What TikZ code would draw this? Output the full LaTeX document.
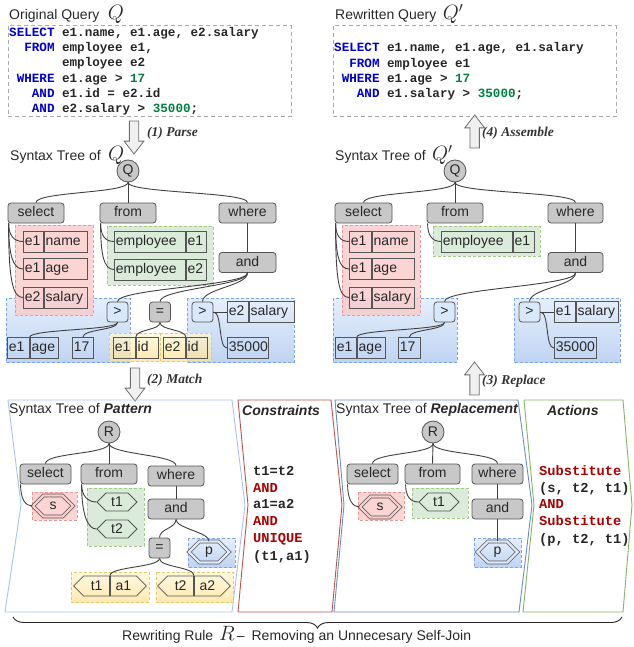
\documentclass[tikz,border=0pt]{standalone}
\usepackage{fontspec}
\setmainfont{Liberation Sans}
\newfontfamily\codefont{Liberation Mono}
\newfontfamily\stepfont{Liberation Serif}
\usepackage{tikz}
\usetikzlibrary{shapes.arrows,shapes.symbols,decorations.pathreplacing}
\usepackage{amsmath,amssymb}
\usepackage{color}

\definecolor{txtc}{RGB}{40,40,40}
\definecolor{linec}{RGB}{64,64,64}
\definecolor{boxfill}{RGB}{200,200,200}
\definecolor{boxline}{RGB}{85,85,85}
\definecolor{kwblue}{RGB}{0,0,204}
\definecolor{numgreen}{RGB}{0,128,64}
\definecolor{andred}{RGB}{170,0,0}
\definecolor{redfill}{RGB}{250,204,204}
\definecolor{redline}{RGB}{236,150,148}
\definecolor{greenfill}{RGB}{213,232,212}
\definecolor{greenline}{RGB}{160,205,130}
\definecolor{bluetop}{RGB}{226,236,252}
\definecolor{bluebot}{RGB}{180,204,240}
\definecolor{blueline}{RGB}{126,166,224}
\definecolor{yeltop}{RGB}{255,246,214}
\definecolor{yelbot}{RGB}{255,226,150}
\definecolor{yelline}{RGB}{230,200,110}
\definecolor{patc}{RGB}{169,196,235}
\definecolor{conc}{RGB}{184,84,80}
\definecolor{repc}{RGB}{108,142,191}
\definecolor{actc}{RGB}{130,179,102}
\definecolor{qline}{RGB}{170,170,170}
\definecolor{gtfill}{RGB}{218,232,252}
\definecolor{arrowc}{RGB}{110,110,110}

\newcommand{\labfont}{\fontsize{14}{16}\selectfont}
\newcommand{\qsym}{\fontsize{20}{22}\selectfont}
\newcommand{\qcode}{\codefont\bfseries\fontsize{12.6}{15}\selectfont}
\newcommand{\rcode}{\codefont\bfseries\fontsize{13.7}{16}\selectfont}

\begin{document}
\begin{tikzpicture}[x=1pt,y=1pt]
\tikzstyle{every node}+=[inner sep=0pt, text=txtc]
\tikzstyle{gbox}=[draw=boxline, fill=boxfill, rounded corners=3pt, line width=0.8pt, minimum height=20pt, font=\labfont, text height=10pt, text depth=3pt]
\tikzstyle{opb}=[gbox, fill=gtfill, minimum width=21pt]
\tikzstyle{root}=[circle, draw=boxline, fill=boxfill, line width=0.8pt, minimum size=22pt, font=\labfont]
\tikzstyle{cell}=[draw=boxline, line width=0.8pt, minimum height=21pt, inner xsep=1.5pt, anchor=west, align=left, font=\labfont, text height=10pt, text depth=3pt]
\tikzstyle{hexa}=[signal, signal to=east and west, draw=boxline, line width=0.8pt, minimum width=40pt, minimum height=18pt, font=\labfont]
\tikzstyle{dhexa}=[hexa, double distance=2.2pt, minimum height=21pt]
\tikzstyle{conn}=[draw=linec, line width=0.9pt]
\tikzstyle{qbox}=[draw=qline, dash pattern=on 4pt off 3pt, line width=1pt]
\tikzstyle{code}=[anchor=west, font=\qcode, text=black!85, text height=9pt, text depth=2.5pt]
\tikzstyle{rule}=[anchor=west, font=\rcode, text=black!85, text height=9.5pt, text depth=3pt]
\tikzstyle{title}=[anchor=west, font=\labfont]
\tikzstyle{steplbl}=[anchor=west, font=\stepfont\bfseries\itshape\fontsize{13.5}{15}\selectfont, text=black!80]
\tikzstyle{bigarrow}=[single arrow, draw=arrowc, fill=gray!12, line width=0.8pt, minimum height=33pt, minimum width=19pt, inner xsep=0pt, inner ysep=4.25pt, single arrow head extend=5.25pt, single arrow tip angle=75]
\tikzstyle{redgrp}=[draw=redline, fill=redfill, dash pattern=on 3pt off 2pt, line width=0.8pt, fill opacity=0.85]
\tikzstyle{greengrp}=[draw=greenline, fill=greenfill, dash pattern=on 3pt off 2pt, line width=0.8pt, fill opacity=0.85]
\tikzstyle{bluegrp}=[draw=blueline, top color=bluetop, bottom color=bluebot, dash pattern=on 3pt off 2pt, line width=0.8pt, fill opacity=0.85]
\tikzstyle{yelgrp}=[draw=yelline, top color=yeltop, bottom color=yelbot, dash pattern=on 3pt off 2pt, line width=0.8pt, fill opacity=0.75]
\tikzstyle{panel}=[line width=0.9pt]
\useasboundingbox (0,0) rectangle (633,-647);

% queries
\draw[qbox] (8,-26) rectangle (291,-117);
\node[title] (origT) at (9,-16) {Original Query};
\node[anchor=base west, font=\qsym] (origQ) at ([xshift=8pt]origT.base east) {$Q$};
\node[code] (oq1) at (9,-33.3) {\textcolor{kwblue}{SELECT} e1.name, e1.age, e2.salary};
\node[code] (oq2) at (9,-48.7) {~~\textcolor{kwblue}{FROM} employee e1,};
\node[code] (oq3) at (9,-63.5) {~~~~~~~employee e2};
\node[code] (oq4) at (9,-79.3) {~\textcolor{kwblue}{WHERE} e1.age > \textcolor{numgreen}{17}};
\node[code] (oq5) at (9,-94.3) {~~~\textcolor{kwblue}{AND} e1.id = e2.id};
\node[code] (oq6) at (9,-109) {~~~\textcolor{kwblue}{AND} e2.salary > \textcolor{numgreen}{35000};};

\draw[qbox] (333,-26) rectangle (616,-117);
\node[title] (newT) at (335,-16) {Rewritten Query};
\node[anchor=base west, font=\qsym] (newQ) at ([xshift=6pt]newT.base east) {$Q'$};
\node[code] (nq1) at (334,-48.3) {\textcolor{kwblue}{SELECT} e1.name, e1.age, e1.salary};
\node[code] (nq2) at (334,-64) {~~\textcolor{kwblue}{FROM} employee e1};
\node[code] (nq3) at (334,-79.3) {~\textcolor{kwblue}{WHERE} e1.age > \textcolor{numgreen}{17}};
\node[code] (nq4) at (334,-94.3) {~~~\textcolor{kwblue}{AND} e1.salary > \textcolor{numgreen}{35000};};

% step arrows
\node[bigarrow, rotate=-90] (parseA) at (134,-134.5) {};
\node[steplbl] (parseL) at (147,-133) {(1) Parse};
\node[bigarrow, rotate=90] (assemA) at (474.7,-134.5) {};
\node[steplbl] (assemL) at (482,-133) {(4) Assemble};
\node[bigarrow, rotate=-90] (matchA) at (135,-381.5) {};
\node[steplbl] (matchL) at (147,-380) {(2) Match};
\node[bigarrow, rotate=90] (replA) at (474.5,-381.5) {};
\node[steplbl] (replL) at (482,-381) {(3) Replace};

% syntax tree of Q
\node[title] (qT) at (10,-157) {Syntax Tree of};
\node[anchor=base west, font=\qsym] (qTQ) at ([xshift=7pt]qT.base east) {$Q$};
\draw[bluegrp] (6,-298) rectangle (130,-362);
\draw[bluegrp] (187,-298) rectangle (294,-362);
\draw[redgrp] (15,-225) rectangle (93,-315);
\draw[greengrp] (107,-226) rectangle (213,-285);
\draw[yelgrp] (109,-333) rectangle (160,-361);
\draw[yelgrp] (160,-333) rectangle (211,-361);
\node[root] (qRoot) at (128,-171) {Q};
\node[gbox, minimum width=56pt] (qSel) at (36,-213) {select};
\node[gbox, minimum width=56pt] (qFrom) at (128,-213) {from};
\node[gbox, minimum width=57pt] (qWhere) at (247.5,-213) {where};
\node[gbox, minimum width=57pt] (qAnd) at (247.5,-262.5) {and};
\node[cell, text width=17pt] (qName) at (23,-241.5) {e1};
\node[cell, text width=40pt] (qNameB) at (qName.east) {name};
\node[cell, text width=17pt] (qAge) at (23,-269) {e1};
\node[cell, text width=40pt] (qAgeB) at (qAge.east) {age};
\node[cell, text width=17pt] (qSal) at (23,-297.5) {e2};
\node[cell, text width=40pt] (qSalB) at (qSal.east) {salary};
\node[cell, text width=68pt] (qEmp1) at (114,-241.5) {employee};
\node[cell, text width=17pt] (qEmp1B) at (qEmp1.east) {e1};
\node[cell, text width=68pt] (qEmp2) at (114,-269.5) {employee};
\node[cell, text width=17pt] (qEmp2B) at (qEmp2.east) {e2};
\node[opb] (qGt1) at (117.5,-312) {>};
\node[gbox, minimum width=21pt] (qEq) at (160,-312) {=};
\node[opb] (qGt2) at (202.5,-312) {>};
\node[cell, text width=19pt] (qWAge) at (7,-348) {e1};
\node[cell, text width=25pt] (qWAgeB) at (qWAge.east) {age};
\node[cell, text width=18pt] (q17) at (72,-348) {17};
\node[cell, text width=19pt] (qId1) at (113,-348) {e1};
\node[cell, text width=19pt] (qId1B) at (qId1.east) {id};
\node[cell, text width=19pt] (qId2) at (163,-348) {e2};
\node[cell, text width=18pt] (qId2B) at (qId2.east) {id};
\node[cell, text width=18pt] (qWSal) at (227,-312) {e2};
\node[cell, text width=42pt] (qWSalB) at (qWSal.east) {salary};
\node[cell, text width=38pt] (q35) at (227,-348) {35000};
\draw[conn] (qRoot.south) .. controls +(0,-11) and +(0,11) .. (qSel.north);
\draw[conn] (qRoot.south) -- (qFrom.north);
\draw[conn] (qRoot.south) .. controls +(0,-11) and +(0,11) .. (qWhere.north);
\draw[conn] ([xshift=1pt]qSel.south west) .. controls +(0,-12) and +(-9,0) .. (qName.west);
\draw[conn] ([xshift=1pt]qSel.south west) .. controls +(0,-32) and +(-10,0) .. (qAge.west);
\draw[conn] ([xshift=1pt]qSel.south west) .. controls +(0,-58) and +(-10,0) .. (qSal.west);
\draw[conn] ([xshift=1pt]qFrom.south west) .. controls +(0,-12) and +(-9,0) .. (qEmp1.west);
\draw[conn] ([xshift=1pt]qFrom.south west) .. controls +(0,-32) and +(-10,0) .. (qEmp2.west);
\draw[conn] (qWhere.south) -- (qAnd.north);
\draw[conn] (qAnd.south) .. controls +(0,-13) and +(0,13) .. (qGt1.north);
\draw[conn] (qAnd.south) .. controls +(0,-13) and +(0,13) .. (qEq.north);
\draw[conn] (qAnd.south) .. controls +(0,-13) and +(0,13) .. (qGt2.north);
\draw[conn] (qGt1.south) .. controls +(0,-8) and +(0,8) .. (qWAge.north east);
\draw[conn] (qGt1.south) .. controls +(0,-8) and +(0,8) .. (q17.north);
\draw[conn] (qEq.south) .. controls +(0,-8) and +(0,8) .. (qId1.north east);
\draw[conn] (qEq.south) .. controls +(0,-8) and +(0,8) .. (qId2.north east);
\draw[conn] (qGt2.east) -- (qWSal.west);
\draw[conn] (qGt2.east) .. controls +(9,0) and +(-9,0) .. (q35.west);

% syntax tree of Q'
\node[title] (wT) at (335,-157) {Syntax Tree of};
\node[anchor=base west, font=\qsym] (wTQ) at ([xshift=6pt]wT.base east) {$Q'$};
\draw[bluegrp] (333,-298) rectangle (457,-362);
\draw[bluegrp] (514,-298) rectangle (620,-362);
\draw[redgrp] (342,-225) rectangle (420,-315);
\draw[greengrp] (433,-226) rectangle (540,-256);
\node[root] (wRoot) at (455,-171) {Q};
\node[gbox, minimum width=57pt] (wSel) at (363.5,-213) {select};
\node[gbox, minimum width=56pt] (wFrom) at (455,-213) {from};
\node[gbox, minimum width=55pt] (wWhere) at (575.5,-213) {where};
\node[gbox, minimum width=55pt] (wAnd) at (575.5,-262.5) {and};
\node[cell, text width=19pt] (wName) at (349,-241.5) {e1};
\node[cell, text width=39pt] (wNameB) at (wName.east) {name};
\node[cell, text width=19pt] (wAge) at (349,-269) {e1};
\node[cell, text width=39pt] (wAgeB) at (wAge.east) {age};
\node[cell, text width=19pt] (wSal) at (349,-297.5) {e1};
\node[cell, text width=39pt] (wSalB) at (wSal.east) {salary};
\node[cell, text width=68pt] (wEmp) at (441,-241.5) {employee};
\node[cell, text width=18pt] (wEmpB) at (wEmp.east) {e1};
\node[opb] (wGt1) at (444.5,-312) {>};
\node[opb] (wGt2) at (529.5,-312) {>};
\node[cell, text width=18pt] (wWAge) at (335,-348) {e1};
\node[cell, text width=25pt] (wWAgeB) at (wWAge.east) {age};
\node[cell, text width=19pt] (w17) at (398,-348) {17};
\node[cell, text width=18pt] (wWSal) at (554,-312) {e1};
\node[cell, text width=39pt] (wWSalB) at (wWSal.east) {salary};
\node[cell, text width=39pt] (w35) at (554,-348) {35000};
\draw[conn] (wRoot.south) .. controls +(0,-11) and +(0,11) .. (wSel.north);
\draw[conn] (wRoot.south) -- (wFrom.north);
\draw[conn] (wRoot.south) .. controls +(0,-11) and +(0,11) .. (wWhere.north);
\draw[conn] ([xshift=1pt]wSel.south west) .. controls +(0,-12) and +(-9,0) .. (wName.west);
\draw[conn] ([xshift=1pt]wSel.south west) .. controls +(0,-32) and +(-10,0) .. (wAge.west);
\draw[conn] ([xshift=1pt]wSel.south west) .. controls +(0,-58) and +(-10,0) .. (wSal.west);
\draw[conn] ([xshift=1pt]wFrom.south west) .. controls +(0,-12) and +(-9,0) .. (wEmp.west);
\draw[conn] (wWhere.south) -- (wAnd.north);
\draw[conn] (wAnd.south) .. controls +(0,-13) and +(0,13) .. (wGt1.north);
\draw[conn] (wAnd.south) .. controls +(0,-13) and +(0,13) .. (wGt2.north);
\draw[conn] (wGt1.south) .. controls +(0,-8) and +(0,8) .. (wWAge.north east);
\draw[conn] (wGt1.south) .. controls +(0,-8) and +(0,8) .. (w17.north);
\draw[conn] (wGt2.east) -- (wWSal.west);
\draw[conn] (wGt2.east) .. controls +(9,0) and +(-9,0) .. (w35.west);

% rule panels
\draw[panel, draw=patc] (8,-400) -- (232,-400) -- (245,-505) -- (232,-612) -- (5,-612) -- (21,-505) -- cycle;
\draw[panel, draw=conc] (238,-400) -- (331,-400) -- (342,-505) -- (332,-612) -- (238,-612) -- (248,-505) -- cycle;
\draw[panel, draw=repc] (335,-400) -- (518,-400) -- (532,-505) -- (519,-612) -- (334,-612) -- (344,-505) -- cycle;
\draw[panel, draw=actc] (524,-400) -- (623,-400) -- (632,-505) -- (623,-612) -- (523,-612) -- (534,-505) -- cycle;
\node[title] (patT) at (9,-410) {Syntax Tree of \textbf{\textit{Pattern}}};
\node[title] (conT) at (242,-410) {\textbf{\textit{Constraints}}};
\node[title] (repT) at (336,-410) {Syntax Tree of \textbf{\textit{Replacement}}};
\node[title] (actT) at (547,-410) {\textbf{\textit{Actions}}};

% pattern
\draw[redgrp] (32,-492) rectangle (77,-520);
\draw[greengrp] (87,-488) rectangle (144,-546);
\draw[bluegrp] (188,-538) rectangle (235,-567);
\draw[yelgrp] (71,-572) rectangle (149,-602);
\draw[yelgrp] (156,-572) rectangle (233,-602);
\node[root] (pRoot) at (109,-432) {R};
\node[gbox, minimum width=51pt] (pSel) at (45.5,-474) {select};
\node[gbox, minimum width=56pt] (pFrom) at (109,-474) {from};
\node[gbox, minimum width=56pt] (pWhere) at (176,-476) {where};
\node[gbox, minimum width=56pt] (pAnd) at (176,-509) {and};
\node[gbox, minimum width=21pt] (pEq) at (159.5,-548) {=};
\node[dhexa, double=redfill] (pS) at (53,-506) {s};
\node[hexa] (pT1) at (117,-502) {t1};
\node[hexa] (pT2) at (117,-529) {t2};
\node[dhexa, double=bluetop] (pP) at (209,-552) {p};
\node[hexa, signal to=west, minimum width=36pt, minimum height=20pt, anchor=east] (pTa1) at (110,-586) {t1};
\node[hexa, signal to=east, minimum width=36pt, minimum height=20pt, anchor=west] (pTa1B) at (pTa1.east) {a1};
\node[hexa, signal to=west, minimum width=36pt, minimum height=20pt, anchor=east] (pTa2) at (194,-586) {t2};
\node[hexa, signal to=east, minimum width=36pt, minimum height=20pt, anchor=west] (pTa2B) at (pTa2.east) {a2};
\draw[conn] (pRoot.south) .. controls +(0,-11) and +(0,11) .. (pSel.north);
\draw[conn] (pRoot.south) -- (pFrom.north);
\draw[conn] (pRoot.south) .. controls +(0,-11) and +(0,11) .. (pWhere.north);
\draw[conn] ([xshift=1pt]pSel.south west) .. controls +(0,-15) and +(-7,0) .. (pS.west);
\draw[conn] ([xshift=1pt]pFrom.south west) .. controls +(0,-12) and +(-8,0) .. (pT1.west);
\draw[conn] ([xshift=1pt]pFrom.south west) .. controls +(0,-32) and +(-8,0) .. (pT2.west);
\draw[conn] (pWhere.south) -- (pAnd.north);
\draw[conn] (pAnd.south) .. controls +(0,-9) and +(0,9) .. (pEq.north);
\draw[conn] (pAnd.south) .. controls +(0,-9) and +(0,9) .. (pP.north);
\draw[conn] (pEq.south) .. controls +(0,-9) and +(0,9) .. (pTa1.north east);
\draw[conn] (pEq.south) .. controls +(0,-9) and +(0,9) .. (pTa2.north east);

% constraints
\node[rule] (c1) at (253,-472.3) {t1=t2};
\node[rule, text=andred] (c2) at (253,-489) {AND};
\node[rule] (c3) at (253,-505.7) {a1=a2};
\node[rule, text=andred] (c4) at (253,-522.3) {AND};
\node[rule, text=andred] (c5) at (253,-539) {UNIQUE};
\node[rule] (c6) at (253,-557) {(t1,a1)};

% replacement
\draw[redgrp] (358,-492) rectangle (404,-520);
\draw[greengrp] (412,-488) rectangle (468,-518);
\draw[bluegrp] (474,-538) rectangle (521,-567);
\node[root] (xRoot) at (433,-432) {R};
\node[gbox, minimum width=51pt] (xSel) at (372.5,-474) {select};
\node[gbox, minimum width=55pt] (xFrom) at (432.5,-474) {from};
\node[gbox, minimum width=51pt] (xWhere) at (497.5,-474) {where};
\node[gbox, minimum width=51pt] (xAnd) at (497.5,-509) {and};
\node[dhexa, double=redfill] (xS) at (380,-507) {s};
\node[hexa] (xT1) at (439,-502) {t1};
\node[dhexa, double=bluetop] (xP) at (497.5,-552) {p};
\draw[conn] (xRoot.south) .. controls +(0,-11) and +(0,11) .. (xSel.north);
\draw[conn] (xRoot.south) -- (xFrom.north);
\draw[conn] (xRoot.south) .. controls +(0,-11) and +(0,11) .. (xWhere.north);
\draw[conn] ([xshift=1pt]xSel.south west) .. controls +(0,-15) and +(-7,0) .. (xS.west);
\draw[conn] ([xshift=1pt]xFrom.south west) .. controls +(0,-12) and +(-8,0) .. (xT1.west);
\draw[conn] (xWhere.south) -- (xAnd.north);
\draw[conn] (xAnd.south) -- (xP.north);

% actions
\node[rule, text=andred] (a1) at (539,-472.3) {Substitute};
\node[rule] (a2) at (539,-489) {(s, t2, t1)};
\node[rule, text=andred] (a3) at (539,-505.7) {AND};
\node[rule, text=andred] (a4) at (539,-522.3) {Substitute};
\node[rule] (a5) at (539,-540) {(p, t2, t1)};

% rule brace
\coordinate (brR) at (622,-617);
\coordinate (brL) at (13,-617);
\draw[decorate, decoration={brace, amplitude=11pt}, draw=black!85, line width=0.9pt] (brR) -- (brL);
\node[title] (ruleT) at (122,-635) {Rewriting Rule\hspace{6pt}{\qsym$R$}\hspace{2pt}--\hspace{7pt}Removing an Unnecesary Self-Join};
\end{tikzpicture}
\end{document}
